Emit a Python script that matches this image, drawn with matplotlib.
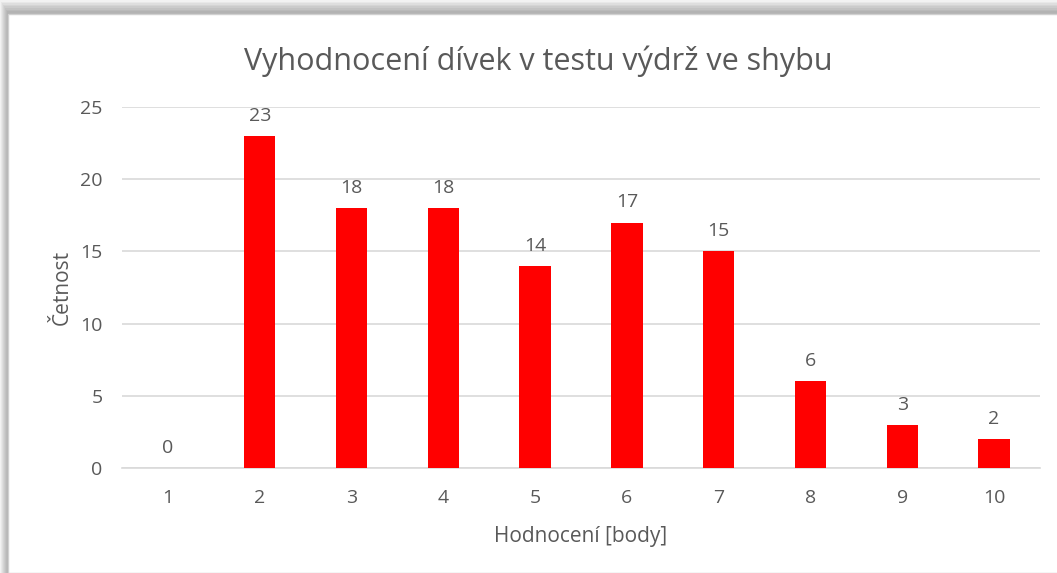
import matplotlib.pyplot as plt
from matplotlib.patches import Rectangle

plt.rcParams['font.family'] = ['Open Sans', 'DejaVu Sans']

hodnoceni = ['1', '2', '3', '4', '5', '6', '7', '8', '9', '10']
cetnost = [0, 23, 18, 18, 14, 17, 15, 6, 3, 2]
yticks = [0, 5, 10, 15, 20, 25]

txt = '#595959'
grid = '#d9d9d9'

fig = plt.figure(figsize=(10.57, 5.73), dpi=100, facecolor='white')

# shadow frame round the chart area (top and left)
W, H = 1057, 573
shades = ['#f2f2f2', '#e8e8e8', '#dedede', '#d4d4d4', '#cbcbcb', '#c2c2c2', '#bababa', '#b3b3b3']
for i, c in enumerate(shades):
    fig.patches.append(Rectangle((i / W, 0), 1, 1 - (i * 1.6) / H, transform=fig.transFigure,
                                 facecolor=c, edgecolor='none', zorder=-10))
fig.patches.append(Rectangle((8 / W, 0), 1, 1 - 14 / H, transform=fig.transFigure,
                             facecolor='white', edgecolor='#d0d0d0', linewidth=1, zorder=-9))

ax = fig.add_axes([122 / W, 1 - 468 / H, (1040 - 122) / W, (468 - 107) / H])
ax.set_facecolor('none')

x = range(len(hodnoceni))
ax.bar(x, cetnost, width=0.34, color='#ff0000', zorder=3)
for xi, v in zip(x, cetnost):
    ax.annotate(str(v), (xi, v), xytext=(0, 8), textcoords='offset points',
                ha='center', va='bottom', fontsize=14, color=txt)

ax.set_xlim(-0.5, len(hodnoceni) - 0.5)
ax.set_ylim(0, 25)
ax.set_yticks(yticks)
ax.set_xticks(list(x))
ax.set_xticklabels(hodnoceni)
ax.yaxis.grid(True, color=grid, linewidth=1.2, zorder=0)
ax.tick_params(length=0, labelsize=14, colors=txt, pad=14)
ax.tick_params(axis='x', pad=15)
for s in ['top', 'right', 'left']:
    ax.spines[s].set_visible(False)
ax.spines['bottom'].set_color(grid)
ax.spines['bottom'].set_linewidth(1.2)

ax.set_xlabel('Hodnocení [body]', fontsize=15, color=txt, labelpad=14)
ax.set_ylabel('Četnost', fontsize=15, color=txt, labelpad=5)
fig.text(538 / W, 1 - 61 / H, 'Vyhodnocení dívek v testu výdrž ve shybu', ha='center', va='center',
         fontsize=22, color=txt)

fig.savefig('out.png', dpi=100)
